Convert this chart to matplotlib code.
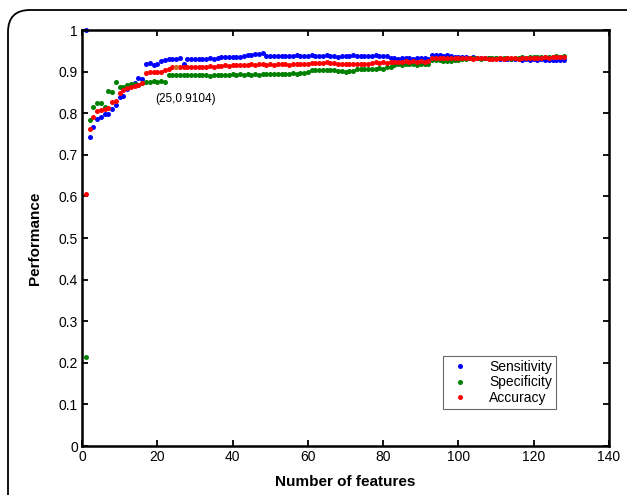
import numpy as np
import matplotlib
matplotlib.use("Agg")
import matplotlib.pyplot as plt
from matplotlib.patches import FancyBboxPatch

plt.rcParams["font.family"] = ["Liberation Sans", "DejaVu Sans"]

num_features = np.arange(1, 129)

sensitivity = [
    1.000, 0.742, 0.768, 0.786, 0.790, 0.798, 0.797, 0.809, 0.819, 0.838,
    0.841, 0.858, 0.866, 0.872, 0.885, 0.882, 0.918, 0.920, 0.917, 0.918,
    0.926, 0.928, 0.930, 0.931, 0.930, 0.932, 0.918, 0.930, 0.930, 0.931,
    0.930, 0.931, 0.930, 0.932, 0.931, 0.932, 0.934, 0.934, 0.935, 0.934,
    0.936, 0.935, 0.938, 0.940, 0.941, 0.942, 0.943, 0.945, 0.938, 0.937,
    0.938, 0.937, 0.938, 0.937, 0.938, 0.937, 0.939, 0.938, 0.937, 0.938,
    0.939, 0.938, 0.937, 0.938, 0.939, 0.938, 0.937, 0.936, 0.938, 0.937,
    0.938, 0.939, 0.938, 0.937, 0.938, 0.937, 0.938, 0.939, 0.938, 0.937,
    0.938, 0.933, 0.932, 0.931, 0.932, 0.933, 0.932, 0.931, 0.932, 0.933,
    0.932, 0.931, 0.939, 0.940, 0.939, 0.938, 0.939, 0.937, 0.936, 0.935,
    0.936, 0.934, 0.933, 0.934, 0.933, 0.932, 0.933, 0.932, 0.931, 0.932,
    0.931, 0.930, 0.931, 0.930, 0.931, 0.930, 0.929, 0.930, 0.929, 0.930,
    0.929, 0.930, 0.929, 0.928, 0.929, 0.928, 0.929, 0.928,
]

specificity = [
    0.215, 0.784, 0.816, 0.825, 0.824, 0.814, 0.853, 0.850, 0.874, 0.864,
    0.862, 0.868, 0.870, 0.871, 0.868, 0.872, 0.876, 0.875, 0.877, 0.876,
    0.878, 0.876, 0.893, 0.892, 0.893, 0.892, 0.891, 0.892, 0.893, 0.892,
    0.891, 0.892, 0.891, 0.890, 0.891, 0.892, 0.893, 0.892, 0.893, 0.894,
    0.893, 0.894, 0.893, 0.894, 0.893, 0.894, 0.893, 0.894, 0.895, 0.894,
    0.895, 0.894, 0.895, 0.894, 0.895, 0.896, 0.895, 0.896, 0.897, 0.900,
    0.903, 0.904, 0.905, 0.904, 0.905, 0.904, 0.903, 0.902, 0.901, 0.900,
    0.901, 0.902, 0.906, 0.907, 0.906, 0.907, 0.906, 0.907, 0.908, 0.907,
    0.910, 0.911, 0.917, 0.918, 0.917, 0.918, 0.919, 0.918, 0.917, 0.918,
    0.919, 0.918, 0.927, 0.928, 0.927, 0.926, 0.925, 0.926, 0.928, 0.929,
    0.930, 0.931, 0.932, 0.933, 0.932, 0.931, 0.932, 0.933, 0.932, 0.933,
    0.932, 0.933, 0.932, 0.931, 0.932, 0.933, 0.934, 0.933, 0.934, 0.935,
    0.934, 0.935, 0.936, 0.935, 0.936, 0.937, 0.936, 0.937,
]

accuracy = [
    0.605, 0.762, 0.790, 0.806, 0.808, 0.810, 0.813, 0.828, 0.830, 0.849,
    0.856, 0.860, 0.864, 0.866, 0.868, 0.872, 0.896, 0.898, 0.900, 0.899,
    0.900, 0.905, 0.906, 0.911, 0.9104, 0.912, 0.910, 0.911, 0.912, 0.911,
    0.912, 0.911, 0.912, 0.913, 0.912, 0.913, 0.914, 0.915, 0.914, 0.915,
    0.916, 0.915, 0.916, 0.917, 0.918, 0.917, 0.918, 0.918, 0.917, 0.918,
    0.917, 0.918, 0.919, 0.918, 0.917, 0.918, 0.919, 0.918, 0.919, 0.918,
    0.920, 0.921, 0.920, 0.921, 0.922, 0.921, 0.920, 0.919, 0.918, 0.919,
    0.918, 0.919, 0.918, 0.919, 0.918, 0.919, 0.921, 0.922, 0.921, 0.922,
    0.921, 0.922, 0.924, 0.923, 0.924, 0.925, 0.924, 0.925, 0.924, 0.925,
    0.924, 0.925, 0.932, 0.933, 0.932, 0.933, 0.932, 0.933, 0.932, 0.933,
    0.932, 0.933, 0.932, 0.931, 0.932, 0.933, 0.932, 0.931, 0.930, 0.931,
    0.932, 0.931, 0.932, 0.933, 0.932, 0.931, 0.932, 0.933, 0.932, 0.933,
    0.932, 0.933, 0.934, 0.933, 0.934, 0.935, 0.934, 0.935,
]

best_point = (25, 0.9104)

fig = plt.figure(figsize=(6.27, 4.95), dpi=100)
ax = fig.add_axes([82 / 627, 1 - 446 / 495, (609 - 82) / 627, (446 - 30) / 495])

# rounded outer frame of the figure panel (runs off the right and bottom)
frame = FancyBboxPatch((0.08, -1.0), 10.0, 4.85 + 1.0,
                       boxstyle="round,pad=0,rounding_size=0.22",
                       transform=fig.dpi_scale_trans, fill=False,
                       edgecolor="black", linewidth=1.3, zorder=0)
fig.patches.append(frame)

ax.plot(num_features, sensitivity, "o", color="#0000ff", markersize=3.6,
        markeredgewidth=0, label="Sensitivity", clip_on=False)
ax.plot(num_features, specificity, "o", color="#008000", markersize=3.6,
        markeredgewidth=0, label="Specificity", clip_on=False)
ax.plot(num_features, accuracy, "o", color="#ff0000", markersize=3.6,
        markeredgewidth=0, label="Accuracy", clip_on=False)
ax.plot(*best_point, "o", color="#b8b040", markersize=4, alpha=0.6,
        markeredgewidth=0)
ax.text(19.4, 0.834, f"({best_point[0]},{best_point[1]})", fontsize=8.5,
        va="center", ha="left")

ax.set_xlim(0, 140)
ax.set_ylim(0, 1)
ax.set_xticks(np.arange(0, 141, 20))
ax.set_yticks(np.arange(0, 1.01, 0.1))
ax.set_yticklabels(["0", "0.1", "0.2", "0.3", "0.4", "0.5", "0.6", "0.7",
                    "0.8", "0.9", "1"])
ax.tick_params(direction="in", top=True, right=True, length=4, width=1.3,
               labelsize=10, pad=3)
for s in ax.spines.values():
    s.set_linewidth(1.8)

ax.set_xlabel("Number of features", fontsize=11, fontweight="bold", labelpad=8)
ax.set_ylabel("Performance", fontsize=11, fontweight="bold", labelpad=12)

leg = ax.legend(loc="lower right", bbox_to_anchor=(474 / 527, 37 / 416),
                fontsize=10, frameon=True, fancybox=False, handletextpad=1.2,
                borderpad=0.3, labelspacing=0.1, handlelength=1.8,
                borderaxespad=0)
leg.get_frame().set_edgecolor("#444444")
leg.get_frame().set_linewidth(0.8)

fig.savefig("out.png", dpi=100)
